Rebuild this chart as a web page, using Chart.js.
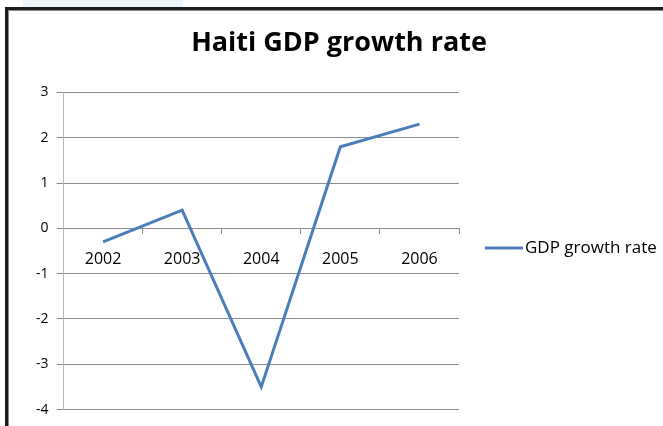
<!DOCTYPE html>
<html lang="en">
<head>
    <meta charset="UTF-8">
    <title>Haiti GDP growth rate</title>
    <script src="https://cdn.jsdelivr.net/npm/chart.js@4.4.1/dist/chart.umd.min.js"></script>
    <style>
        body { margin: 0; background: #fff; }
        .page { position: relative; width: 663px; height: 426px; overflow: hidden; }
        .strip { position: absolute; left: 23px; top: 0; width: 160px; height: 7px; background: #eef6fa; }
        .frame {
            position: absolute; left: 5px; top: 7px; width: 700px; height: 460px;
            border: 3px solid #1c1c1c; box-shadow: inset 1px 1px 0 #8a8a8a;
        }
        .chart-box { position: absolute; left: 0; top: 0; width: 663px; height: 426px; }
    </style>
</head>
<body>
    <div class="page">
        <div class="strip"></div>
        <div class="frame"></div>
        <div class="chart-box">
            <canvas id="gdpChart"></canvas>
        </div>
    </div>
    <script>
        // data
        const years = ['2002', '2003', '2004', '2005', '2006'];
        const growthRate = [-0.3, 0.4, -3.5, 1.8, 2.3];
        const seriesName = 'GDP growth rate';
        const chartTitle = 'Haiti GDP growth rate';

        const font = "'Open Sans', 'Noto Sans', sans-serif";
        const gridGray = '#8c8c8c';
        const lineBlue = '#4a7ebb';

        // the built-in right legend is capped at a quarter of the width, so draw it by hand
        const sideLegend = {
            id: 'sideLegend',
            afterDraw(chart) {
                const ctx = chart.ctx;
                const area = chart.chartArea;
                const ds = chart.data.datasets[0];
                const x = area.right + 26;
                const y = (area.top + area.bottom) / 2 - 3;
                ctx.save();
                ctx.strokeStyle = ds.borderColor;
                ctx.lineWidth = ds.borderWidth;
                ctx.beginPath();
                ctx.moveTo(x, y);
                ctx.lineTo(x + 38, y);
                ctx.stroke();
                ctx.fillStyle = '#000';
                ctx.font = "17px " + font;
                ctx.textBaseline = 'middle';
                ctx.fillText(ds.label, x + 40, y);
                ctx.restore();
            }
        };

        new Chart(document.getElementById('gdpChart'), {
            type: 'line',
            data: {
                labels: years,
                datasets: [{
                    label: seriesName,
                    data: growthRate,
                    borderColor: lineBlue,
                    backgroundColor: lineBlue,
                    borderWidth: 3,
                    pointRadius: 0,
                    tension: 0
                }]
            },
            plugins: [sideLegend],
            options: {
                responsive: true,
                maintainAspectRatio: false,
                animation: false,
                layout: { padding: { left: 28, right: 13, top: 27, bottom: 10 } },
                plugins: {
                    title: {
                        display: true,
                        text: chartTitle,
                        color: '#000',
                        font: { family: font, size: 27, weight: 'bold' },
                        padding: { top: 0, bottom: 33 }
                    },
                    legend: { display: false },
                    tooltip: { enabled: false }
                },
                scales: {
                    x: {
                        position: { y: 0 },
                        offset: true,
                        grid: {
                            offset: true,
                            drawOnChartArea: false,
                            drawTicks: true,
                            tickLength: 5,
                            color: gridGray
                        },
                        border: { color: gridGray, width: 1 },
                        ticks: {
                            color: '#000',
                            font: { family: font, size: 16 },
                            padding: 16,
                            maxRotation: 0
                        }
                    },
                    y: {
                        min: -4,
                        max: 3,
                        ticks: {
                            stepSize: 1,
                            color: '#000',
                            font: { family: font, size: 14 },
                            padding: 8
                        },
                        grid: {
                            color: gridGray,
                            tickLength: 7
                        },
                        border: { color: '#b8b8b8', width: 1 }
                    },
                    // empty right-hand box that leaves room for the legend
                    legendRoom: {
                        type: 'linear',
                        position: 'right',
                        grid: { display: false },
                        ticks: { display: false },
                        border: { display: false },
                        afterFit(scale) { scale.width = 191; }
                    }
                }
            }
        });
    </script>
</body>
</html>
